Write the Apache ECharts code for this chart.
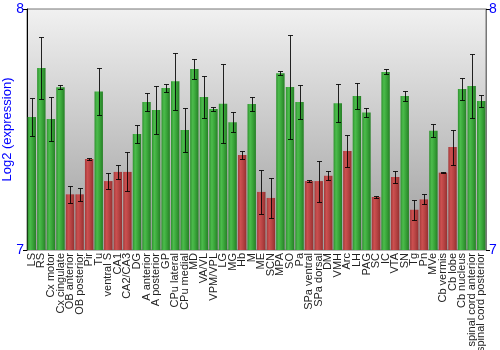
<!DOCTYPE html>
<html>
<head>
<meta charset="utf-8">
<script src="https://cdn.jsdelivr.net/npm/echarts@6/dist/echarts.min.js"></script>
<style>
  html, body { margin: 0; padding: 0; background: #ffffff; }
  #chart { width: 500px; height: 350px; }
</style>
</head>
<body>
<div id="chart"></div>
<script>
// Brain regions along the x axis
const regions = [
  'LS', 'RS', 'Cx motor', 'Cx cingulate', 'OB anterior', 'OB posterior', 'Pir', 'Tu',
  'ventral S', 'CA1', 'CA2/CA3', 'DG', 'A anterior', 'A posterior', 'GP', 'CPu lateral',
  'CPu medial', 'MD', 'VA/VL', 'VPM/VPL', 'LG', 'MG', 'Hb', 'M',
  'ME', 'SCN', 'MPA', 'SO', 'Pa', 'SPa ventral', 'SPa dorsal', 'DM',
  'VMH', 'Arc', 'LH', 'PAG', 'SC', 'IC', 'VTA', 'SN',
  'Tg', 'Pn', 'MVe', 'Cb vermis', 'Cb lobe', 'Cb nucleus', 'spinal cord anterior', 'spinal cord posterior'
];

// Mean log2 expression per region
const expression = [
  7.552, 7.755, 7.544, 7.675, 7.231, 7.231, 7.378, 7.658,
  7.286, 7.324, 7.324, 7.481, 7.614, 7.581, 7.672, 7.700,
  7.498, 7.751, 7.635, 7.585, 7.607, 7.530, 7.394, 7.606,
  7.241, 7.216, 7.733, 7.676, 7.614, 7.286, 7.286, 7.308,
  7.609, 7.411, 7.639, 7.571, 7.220, 7.739, 7.303, 7.639,
  7.167, 7.210, 7.495, 7.321, 7.427, 7.668, 7.680, 7.618
];

// Half-length of the error bar (+/-) per region
const errors = [
  0.078, 0.128, 0.090, 0.008, 0.035, 0.027, 0.005, 0.096,
  0.032, 0.028, 0.081, 0.039, 0.036, 0.098, 0.016, 0.118,
  0.093, 0.043, 0.088, 0.010, 0.163, 0.042, 0.017, 0.030,
  0.090, 0.084, 0.008, 0.216, 0.071, 0.003, 0.085, 0.018,
  0.079, 0.066, 0.055, 0.020, 0.003, 0.010, 0.024, 0.019,
  0.041, 0.021, 0.026, 0.003, 0.073, 0.044, 0.132, 0.024
];

// 1 = detected (green), 0 = not detected (red)
const detected = [
  1, 1, 1, 1, 0, 0, 0, 1,
  0, 0, 0, 1, 1, 1, 1, 1,
  1, 1, 1, 1, 1, 1, 0, 1,
  0, 0, 1, 1, 1, 0, 0, 0,
  1, 0, 1, 1, 0, 1, 0, 1,
  0, 0, 1, 0, 0, 1, 1, 1
];

// Axis range and ticks
const yMin = 7;
const yMax = 8;
const yStep = 1;

const chart = echarts.init(document.getElementById('chart'), null, { renderer: 'canvas' });

function barFill(isOn) {
  const stops = isOn
    ? ['#2f922f', '#4cbc4c', '#3aa63a', '#267f26']
    : ['#a33a3a', '#cc5050', '#b84444', '#963030'];
  return new echarts.graphic.LinearGradient(0, 0, 1, 0, [
    { offset: 0, color: stops[0] },
    { offset: 0.3, color: stops[1] },
    { offset: 0.6, color: stops[2] },
    { offset: 1, color: stops[3] }
  ]);
}

const barData = expression.map((v, i) => ({
  value: v,
  itemStyle: { color: barFill(detected[i] === 1) }
}));

const errData = expression.map((v, i) => [i, v - errors[i], v + errors[i]]);

const labelColor = '#0000ff';
const yAxisCommon = {
  type: 'value',
  min: yMin,
  max: yMax,
  interval: yStep,
  splitLine: { show: false },
  axisTick: { show: true, length: 4, lineStyle: { color: '#000' } },
  axisLabel: { color: labelColor, fontSize: 14, fontFamily: 'Liberation Sans', margin: 3 }
};

chart.setOption({
  animation: false,
  backgroundColor: '#ffffff',
  grid: {
    left: 27, right: 14, top: 9, bottom: 100,
    containLabel: false,
    outerBoundsMode: 'none',
    show: true,
    borderColor: '#777',
    borderWidth: 1,
    backgroundColor: new echarts.graphic.LinearGradient(0, 0, 0, 1, [
      { offset: 0, color: '#f1f1f1' },
      { offset: 1, color: '#9d9d9d' }
    ])
  },
  xAxis: {
    type: 'category',
    data: regions,
    axisLine: { show: false },
    axisTick: { show: false },
    axisLabel: {
      interval: 0, rotate: 90, fontSize: 11, color: '#222',
      fontFamily: 'Liberation Sans', margin: 3
    }
  },
  yAxis: [
    Object.assign({}, yAxisCommon, {
      position: 'left',
      axisLine: { show: true, lineStyle: { color: '#000', width: 1 } },
      name: 'Log2 (expression)',
      nameLocation: 'middle',
      nameGap: 13,
      nameMoveOverlap: false,
      nameTextStyle: { color: labelColor, fontSize: 13, fontFamily: 'Liberation Sans' }
    }),
    Object.assign({}, yAxisCommon, {
      position: 'right',
      axisLine: { show: true, lineStyle: { color: '#777', width: 1 } }
    })
  ],
  series: [
    {
      type: 'bar',
      data: barData,
      barCategoryGap: '12%',
      clip: true,
      yAxisIndex: 0
    },
    {
      type: 'custom',
      data: errData,
      z: 5,
      clip: true,
      renderItem: function (params, api) {
        const x = api.value(0);
        const lo = api.coord([x, api.value(1)]);
        const hi = api.coord([x, api.value(2)]);
        const cx = Math.round(lo[0]) + 0.5;
        const yl = Math.round(lo[1]) + 0.5;
        const yh = Math.round(hi[1]) + 0.5;
        const hw = 2.5;
        const style = { stroke: '#000', lineWidth: 1, opacity: 0.85 };
        return {
          type: 'group',
          children: [
            { type: 'line', shape: { x1: cx, y1: yl, x2: cx, y2: yh }, style: style },
            { type: 'line', shape: { x1: cx - hw, y1: yl, x2: cx + hw, y2: yl }, style: style },
            { type: 'line', shape: { x1: cx - hw, y1: yh, x2: cx + hw, y2: yh }, style: style }
          ]
        };
      }
    }
  ]
});
</script>
</body>
</html>
